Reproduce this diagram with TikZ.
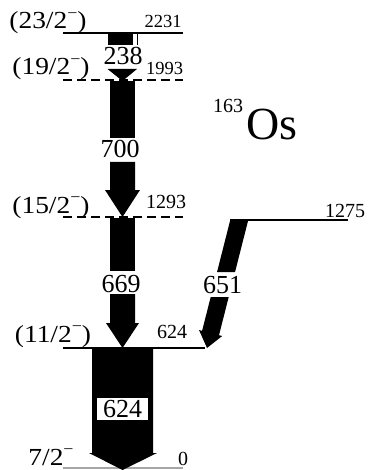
\documentclass[tikz,border=0pt]{standalone}
\usepackage{fontspec}
\setmainfont{Liberation Serif}
\usepackage{graphicx}
\newcommand{\supminus}{\raisebox{0.42em}{\fontsize{16}{16}\selectfont −}}
\begin{document}
\begin{tikzpicture}[x=1pt,y=-1pt,
  lvl/.style={line width=1.2pt},
  dlvl/.style={line width=1.2pt, dash pattern=on 9pt off 5pt},
  spin/.style={inner sep=0pt, anchor=base, font=\fontsize{24.5}{24.5}\selectfont},
  ensm/.style={inner sep=0pt, anchor=base, font=\fontsize{18.5}{18.5}\selectfont},
  en/.style={inner sep=0pt, anchor=base, font=\fontsize{20}{20}\selectfont},
  trl/.style={inner sep=0pt, anchor=base, font=\fontsize{26}{26}\selectfont},
  gam/.style={fill=black},
]
\useasboundingbox (0,0) rectangle (369,470);

% levels
\coordinate (l2231a) at (63,33);  \coordinate (l2231b) at (183,33);
\coordinate (l1993a) at (63,80);  \coordinate (l1993b) at (183,80);
\coordinate (l1293a) at (63,217); \coordinate (l1293b) at (183,217);
\coordinate (l1275a) at (230,220);\coordinate (l1275b) at (348,220);
\coordinate (l624a) at (63,348);  \coordinate (l624b) at (205,348);
\coordinate (l0a) at (63,468);    \coordinate (l0b) at (183,468);

\draw[lvl] (l2231a) -- (l2231b);
\draw[dlvl] (l1993a) -- (l1993b);
\draw[dlvl] (l1293a) -- (l1293b);
\draw[lvl] (l1275a) -- (l1275b);
\draw[lvl] (l624a) -- (l624b);
\draw[lvl, gray!70] (l0a) -- (l0b);

% gamma 238
\fill[gam] (108,33) rectangle (133,45);
\draw[line width=0.5pt] (137,33) -- (137,45);
\fill[gam] (107.5,69) -- (137,69) -- (122.5,81) -- cycle;

% gamma 700
\fill[gam] (110,81) rectangle (135,138);
\fill[gam] (110,162) -- (135,162) -- (135,190) -- (140,190) -- (122.5,217)
  -- (105,190) -- (110,190) -- cycle;

% gamma 669
\fill[gam] (110,218) rectangle (135,271);
\fill[gam] (110,294) -- (135,294) -- (135,323) -- (139,323) -- (122.5,348)
  -- (106,323) -- (110,323) -- cycle;

% gamma 624
\fill[gam] (92,349) -- (153,349) -- (153,453) -- (157,453) -- (122.5,470)
  -- (89,453) -- (92,453) -- cycle;

% gamma 651
\fill[gam] (230,221) -- (248,221) -- (235.05,272) -- (217.05,272) -- cycle;
\fill[gam] (210.7,297) -- (228.7,297) -- (219,335.2) -- (222.2,336) -- (207,348)
  -- (199,330) -- (202.1,330.8) -- cycle;

% spin labels
\node[spin] (s2231) at (48,29) {\scalebox{1.12}[1]{(23/2\supminus)}};
\node[spin] (s1993) at (51,75) {\scalebox{1.12}[1]{(19/2\supminus)}};
\node[spin] (s1293) at (51,213) {\scalebox{1.12}[1]{(15/2\supminus)}};
\node[spin] (s624) at (53,342) {\scalebox{1.12}[1]{(11/2\supminus)}};
\node[spin] (s0) at (51,465) {\scalebox{1.12}[1]{7/2\supminus}};

% energy labels
\node[ensm] (e2231) at (163,28) {2231};
\node[ensm] (e1993) at (164.5,75) {1993};
\node[en] (e1293) at (166,208) {1293};
\node[en] (e1275) at (345,217) {1275};
\node[en] (e624) at (172,338) {624};
\node[en] (e0) at (183,465) {0};

% transition labels
\node[trl] (t238) at (123,65) {238};
\node[trl] (t700) at (120,158) {700};
\node[trl] (t669) at (121,292) {669};
\node[trl] (t651) at (222.5,293) {651};
\node[fill=white, inner sep=0pt, minimum width=51pt, minimum height=22pt,
  font=\fontsize{26}{26}\selectfont] (t624) at (122.5,409) {624};

% nucleus
\node[inner sep=0pt, anchor=base west, font=\fontsize{20}{20}\selectfont] (mass) at (213,113) {163};
\node[inner sep=0pt, anchor=base west, font=\fontsize{46}{46}\selectfont] (os) at (246,140) {Os};
\end{tikzpicture}
\end{document}
